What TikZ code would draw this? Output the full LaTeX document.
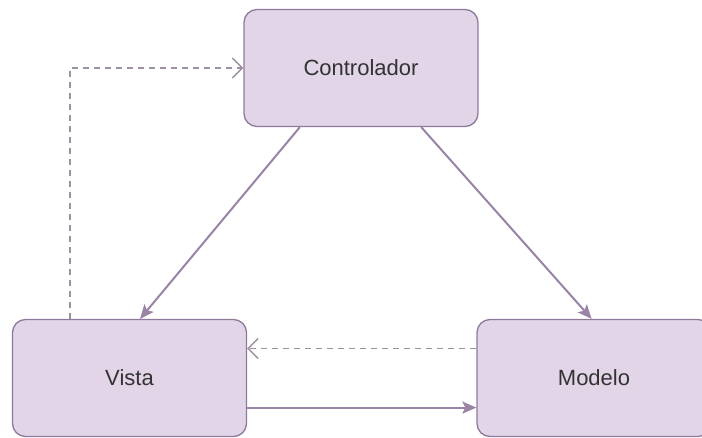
\documentclass[tikz,border=0pt]{standalone}
\usepackage{fontspec}
\setmainfont{Liberation Sans}
\usetikzlibrary{calc,arrows.meta}
\definecolor{boxfill}{HTML}{E1D5E7}
\definecolor{boxline}{HTML}{8F7A9C}
\definecolor{edgecol}{HTML}{9A84A6}
\definecolor{dashcol}{HTML}{9C90A3}
\definecolor{txt}{HTML}{333333}
\begin{document}
\begin{tikzpicture}[x=1pt,y=-1pt,
  block/.style={draw=boxline, fill=boxfill, line width=1.3pt, rounded corners=13pt,
    minimum width=234pt, minimum height=117pt, inner sep=0pt,
    font=\fontsize{22}{26}\selectfont, text=txt},
  solidedge/.style={draw=edgecol, line width=2pt, -{Stealth[length=14pt,width=12pt,inset=3pt]}},
  dashedge/.style={draw=dashcol, line width=1.4pt, dash pattern=on 6pt off 5pt,
    -{Straight Barb[length=10pt,width=20pt,line width=1.4pt]}}]
  \useasboundingbox (0,0) rectangle (702,437);
  \fill[white] (0,0) rectangle (702,437);
  % the three components
  \node[block] (C) at (361,68) {Controlador};
  \node[block] (V) at (129.5,378) {Vista};
  \node[block] (M) at (594,378) {Modelo};
  % attachment points on the box borders
  \coordinate (cl) at ($(C.south west)!0.24!(C.south east)$);
  \coordinate (cr) at ($(C.south west)!0.756!(C.south east)$);
  \coordinate (vt) at ($(V.north west)!0.545!(V.north east)$);
  \coordinate (mt) at ($(M.north west)!0.49!(M.north east)$);
  \coordinate (vl) at ($(V.north west)!0.247!(V.north east)$);
  \coordinate (mw1) at ($(M.north west)!0.25!(M.south west)$);
  \coordinate (vw2) at ($(V.north east)!0.75!(V.south east)$);
  % connectors
  \draw[solidedge] (cl) -- (vt);
  \draw[solidedge] (cr) -- (mt);
  \draw[dashedge] (vl) |- (C.west);
  \draw[dashedge] (mw1) -- (V.east |- mw1);
  \draw[solidedge] (vw2) -- (M.west |- vw2);
\end{tikzpicture}
\end{document}
